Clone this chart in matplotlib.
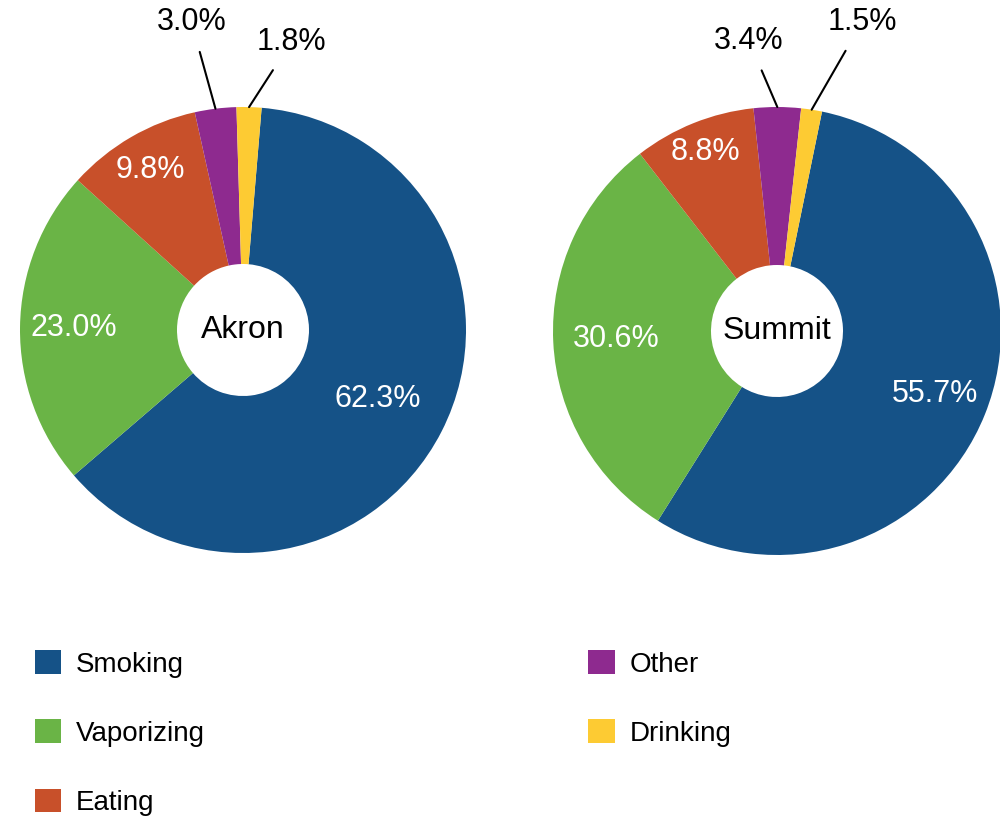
import numpy as np
import matplotlib
matplotlib.use('Agg')
import matplotlib.pyplot as plt
from matplotlib.patches import Patch

plt.rcParams['font.family'] = ['Liberation Sans', 'DejaVu Sans']

# Data
categories = ['Smoking', 'Vaporizing', 'Eating', 'Other', 'Drinking']
akron_values = [62.3, 23.0, 9.8, 3.0, 1.8]
summit_values = [55.7, 30.6, 8.8, 3.4, 1.5]
colors = ['#155287', '#6AB446', '#C8502A', '#8E2A8F', '#FDCB33']

# layout for each donut: name, values, center px (from top-left), radius px, start angle,
# outside label positions (r, angle), inside label radii
charts = [
    ('Akron', akron_values, (243, 330), 223, 85.2,
     {3: (1.40, 99.5), 4: (1.31, 80.5)}, [0.68, 0.76, 0.83]),
    ('Summit', summit_values, (777, 331), 224, 78.4,
     {3: (1.30, 95.5), 4: (1.43, 74.6)}, [0.76, 0.72, 0.86]),
]

W, H = 1000, 818
fig = plt.figure(figsize=(10, 8.18), dpi=100)

half = 240
hole_px = 66
for name, values, (cx, cy), rad, start, outside, inner_r in charts:
    cy_b = H - cy
    ax = fig.add_axes([(cx - half) / W, (cy_b - half) / H, 2 * half / W, 2 * half / H])
    wedges, _ = ax.pie(values, colors=colors, startangle=start, counterclock=False,
                       wedgeprops=dict(width=1 - hole_px / rad, edgecolor='none'))
    lim = half / rad
    ax.set_xlim(-lim, lim)
    ax.set_ylim(-lim, lim)
    ax.set_aspect('equal')
    ax.axis('off')

    for i, (w, v) in enumerate(zip(wedges, values)):
        mid = np.deg2rad((w.theta1 + w.theta2) / 2)
        label = f'{v:.1f}%'
        if i in outside:
            r, ang = outside[i]
            ang = np.deg2rad(ang)
            ax.annotate(label, xy=(np.cos(mid), np.sin(mid)),
                        xytext=(r * np.cos(ang), r * np.sin(ang)),
                        ha='center', va='center', fontsize=22, color='black',
                        arrowprops=dict(arrowstyle='-', color='black', lw=1.5,
                                        shrinkA=9, shrinkB=0))
        else:
            r = inner_r[i]
            ax.text(r * np.cos(mid), r * np.sin(mid), label, ha='center', va='center',
                    fontsize=22, color='white')

    ax.text(0, 0, name, ha='center', va='center', fontsize=23, color='black')

handles = [Patch(facecolor=c, edgecolor='none') for c in colors]
fig.legend(handles, categories, loc='upper left', bbox_to_anchor=(0.035, 0.205),
           ncol=2, frameon=False, fontsize=20, borderpad=0, borderaxespad=0,
           handlelength=0.94, handleheight=0.94, handletextpad=0.54,
           labelspacing=1.5, columnspacing=13.8)

fig.savefig('out.png', dpi=100)
